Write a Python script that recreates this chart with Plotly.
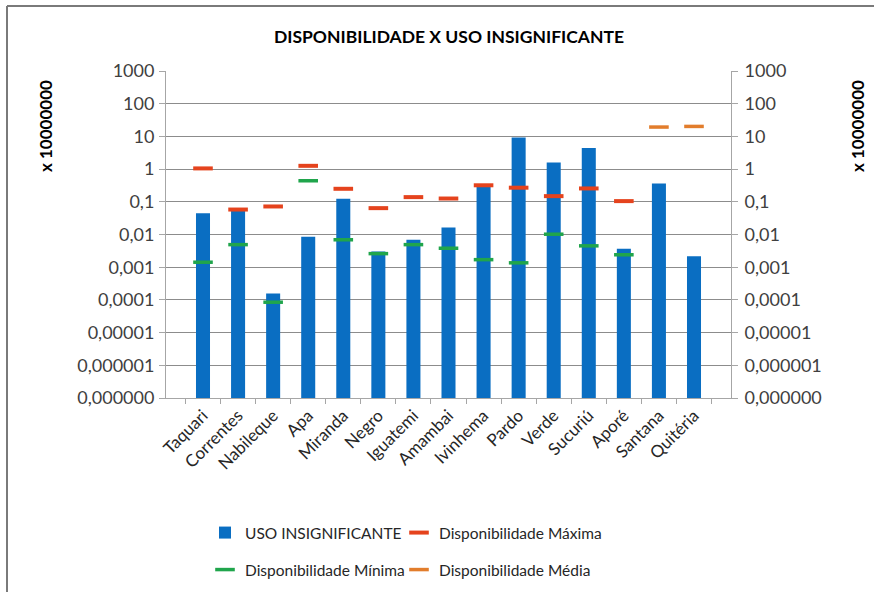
import plotly.graph_objects as go

categories = ["Taquari", "Correntes", "Nabileque", "Apa", "Miranda", "Negro", "Iguatemi",
              "Amambai", "Ivinhema", "Pardo", "Verde", "Sucuriú", "Aporé", "Santana", "Quitéria"]
uso_insignificante = [0.045, 0.065, 0.000156, 0.0085, 0.124, 0.003, 0.0069, 0.0164,
                      0.316, 9.3, 1.6, 4.4, 0.00364, 0.364, 0.00217]
disp_maxima = [1.05, 0.058, 0.072, 1.26, 0.25, 0.064, 0.139, 0.126,
               0.32, 0.27, 0.149, 0.256, 0.105, None, None]
disp_minima = [0.00142, 0.0049, 0.000085, 0.44, 0.0069, 0.0026, 0.0049, 0.0038,
               0.0017, 0.00136, 0.0102, 0.0045, 0.0024, None, None]
disp_media = [None, None, None, None, None, None, None, None,
              None, None, None, None, None, 19.3, 20.2]
tick_vals = [1e3, 1e2, 1e1, 1, 1e-1, 1e-2, 1e-3, 1e-4, 1e-5, 1e-6, 1e-7]
tick_text = ["1000", "100", "10", "1", "0,1", "0,01", "0,001", "0,0001",
             "0,00001", "0,000001", "0,000000"]

FONT = "Lato"
W, H = 874, 592
L, R, T, B = 166, 143, 71, 194
pw, ph = W - L - R, H - T - B


def px_x(px):
    return (px - L) / pw


def px_y(py):
    return (H - B - py) / ph


fig = go.Figure()
fig.add_trace(go.Bar(x=categories, y=uso_insignificante, name="USO INSIGNIFICANTE",
                     marker=dict(color="#0A6EC2", line=dict(width=0)), legend="legend"))
fig.add_trace(go.Scatter(x=categories, y=disp_maxima, name="Disponibilidade Máxima", mode="markers",
                         marker=dict(symbol="line-ew", size=14, line=dict(width=4, color="#E5431D")),
                         legend="legend2"))
fig.add_trace(go.Scatter(x=categories, y=disp_minima, name="Disponibilidade Mínima", mode="markers",
                         marker=dict(symbol="line-ew", size=14, line=dict(width=3.5, color="#20A54C")),
                         legend="legend3"))
fig.add_trace(go.Scatter(x=categories, y=disp_media, name="Disponibilidade Média", mode="markers",
                         marker=dict(symbol="line-ew", size=14, line=dict(width=3.5, color="#E27D2C")),
                         legend="legend4"))
# invisible trace to carry the secondary (right) axis
fig.add_trace(go.Scatter(x=categories, y=uso_insignificante, yaxis="y2", mode="markers",
                         marker=dict(opacity=0), showlegend=False, hoverinfo="skip"))

grid = "#8C8C8C"
axis_common = dict(type="log", range=[-7, 3], tickvals=tick_vals, ticktext=tick_text,
                   ticks="outside", ticklen=6, tickcolor="#A6A6A6", showline=True,
                   linecolor="#A6A6A6", linewidth=1, automargin=False,
                   tickfont=dict(family=FONT, size=18, color="#404040"))


def leg(xpx, ypx):
    return dict(orientation="h", x=px_x(xpx), xanchor="left", y=px_y(ypx), yanchor="middle",
                bgcolor="rgba(0,0,0,0)", itemwidth=30,
                font=dict(family=FONT, size=15.5, color="#262626"))


fig.update_layout(
    width=W, height=H,
    margin=dict(l=L, r=R, t=T, b=B, autoexpand=False),
    paper_bgcolor="white", plot_bgcolor="white",
    font=dict(family=FONT, color="#262626"),
    bargap=0.6,
    title=dict(text="<b>DISPONIBILIDADE X USO INSIGNIFICANTE</b>", x=449 / W,
               xanchor="center", y=(H - 37) / H, yanchor="middle", yref="container",
               font=dict(family=FONT, size=17.5, color="#000000")),
    xaxis=dict(type="category", showline=True, linecolor="#A6A6A6", ticks="outside",
               tickson="boundaries", ticklen=5, tickcolor="#A6A6A6", tickangle=-45,
               automargin=False,
               tickfont=dict(family=FONT, size=17, color="#262626"), showgrid=False),
    yaxis=dict(**axis_common, side="left", showgrid=True, gridcolor=grid, gridwidth=1,
               ticklabelstandoff=1),
    yaxis2=dict(**axis_common, side="right", overlaying="y", showgrid=False,
                ticklabelstandoff=3),
    legend=leg(205, 533),
    legend2=leg(399, 533),
    legend3=leg(205, 570),
    legend4=leg(399, 570),
    showlegend=True,
)

for xp in (45, 857):
    fig.add_annotation(text="<b>x 10000000</b>", x=px_x(xp), y=px_y(126), xref="paper", yref="paper",
                       textangle=-90, showarrow=False, xanchor="center", yanchor="middle",
                       font=dict(family=FONT, size=17, color="#000000"))

# chart-area frame (left and top edges visible in the original)
fig.add_shape(type="line", xref="paper", yref="paper", x0=px_x(7), x1=px_x(7),
              y0=px_y(H + 5), y1=px_y(6), line=dict(color="#7A7A7A", width=2))
fig.add_shape(type="line", xref="paper", yref="paper", x0=px_x(7), x1=px_x(W + 5),
              y0=px_y(6), y1=px_y(6), line=dict(color="#7A7A7A", width=2))

fig.write_html("out.html", config={"displayModeBar": False},
               post_script="document.body.style.margin='0';")
